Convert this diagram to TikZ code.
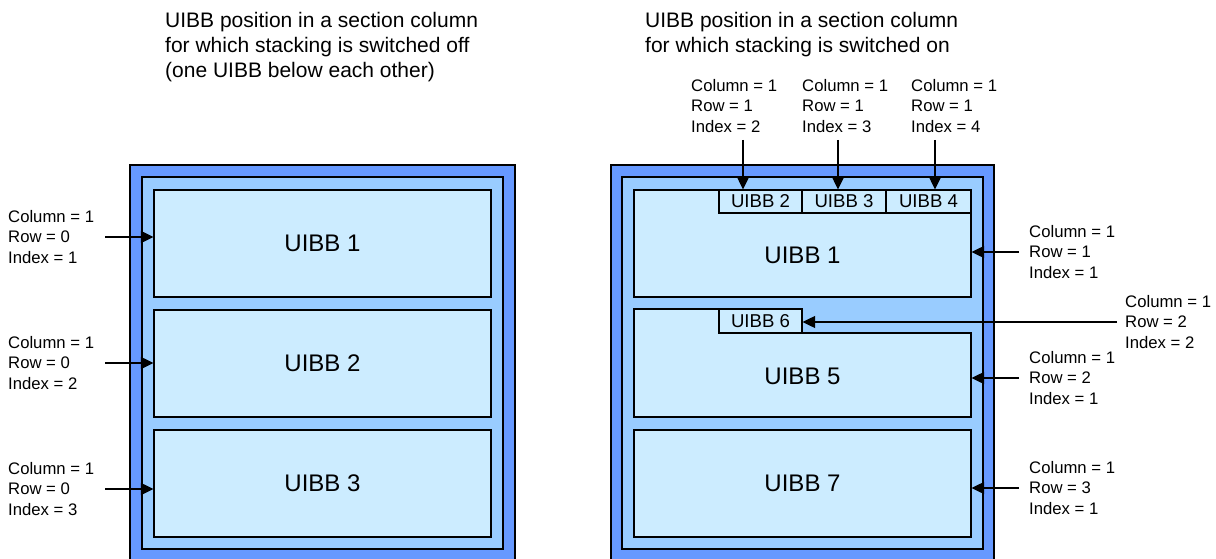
\documentclass[tikz,border=0pt]{standalone}
\usepackage{fontspec}
\setmainfont{Liberation Sans}
\usepackage{tikz}
\usetikzlibrary{arrows.meta}
\definecolor{framedark}{HTML}{6699FF}
\definecolor{framelight}{HTML}{99CCFF}
\definecolor{uibbfill}{HTML}{CCECFF}

\begin{document}
\begin{tikzpicture}[
		x=1pt, y=-1pt,
		frame/.style = {draw=black, line width=1.2pt},
		uibb/.style = {shape=rectangle, draw, line width=1.2pt, fill=uibbfill,
				minimum width=337pt, minimum height=107pt, inner sep=0pt,
				font=\fontsize{24}{28}\selectfont},
		smallbox/.style = {shape=rectangle, draw, line width=1.2pt, fill=uibbfill,
				minimum height=23pt, inner sep=0pt,
				font=\fontsize{18.6}{22}\selectfont},
		titletext/.style = {anchor=west, align=left, inner sep=0pt,
				font=\fontsize{21}{25}\selectfont},
		poslabel/.style = {anchor=west, align=left, inner sep=0pt,
				font=\fontsize{16.7}{20.5}\selectfont},
		arr/.style = {line width=1.2pt, -{Triangle[length=12.5pt,width=12pt]}}
	]

	\useasboundingbox (0,0) rectangle (1216,559);

	\node[titletext] (tleft) at (165,47) {UIBB position in a section column\\
		for which stacking is switched off\\
		(one UIBB below each other)};
	\node[titletext] (tright) at (645,34.5) {UIBB position in a section column\\
		for which stacking is switched on};

	% section column, stacking off
	\filldraw[frame, fill=framedark] (130,165) rectangle (515,562);
	\filldraw[frame, fill=framelight] (142,177) rectangle (503,549);

	\node[uibb] (a1) at (322.5,243.5) {UIBB 1};
	\node[uibb] (a2) at (322.5,363.5) {UIBB 2};
	\node[uibb] (a3) at (322.5,483.5) {UIBB 3};

	\node[poslabel] (pa1) at (8,237) {Column = 1\\ Row = 0\\ Index = 1};
	\node[poslabel] (pa2) at (8,363) {Column = 1\\ Row = 0\\ Index = 2};
	\node[poslabel] (pa3) at (8,489) {Column = 1\\ Row = 0\\ Index = 3};

	\draw[arr] ([xshift=11pt]pa1.east) -- (pa1.east -| a1.west);
	\draw[arr] ([xshift=11pt]pa2.east) -- (pa2.east -| a2.west);
	\draw[arr] ([xshift=11pt]pa3.east) -- (pa3.east -| a3.west);

	% section column, stacking on
	\filldraw[frame, fill=framedark] (611,165) rectangle (994,562);
	\filldraw[frame, fill=framelight] (622,177) rectangle (983,549);

	\node[uibb] (b1) at (802.5,243.5) {};
	\node[font=\fontsize{24}{28}\selectfont] (t1) at ([yshift=-12pt]b1.center) {UIBB 1};
	\node[smallbox, minimum width=83pt] (s2) at (760.5,201.5) {UIBB 2};
	\node[smallbox, minimum width=84pt] (s3) at (844,201.5) {UIBB 3};
	\node[smallbox, minimum width=85pt] (s4) at (928.5,201.5) {UIBB 4};

	\filldraw[frame, fill=uibbfill] (634,309) -- (802,309) -- (802,333)
		-- (971,333) -- (971,417) -- (634,417) -- cycle;
	\node[smallbox, minimum width=83pt, minimum height=24pt] (s6) at (760.5,321) {UIBB 6};
	\node[uibb, draw=none, fill=none, minimum height=84pt] (b5) at (802.5,376) {UIBB 5};

	\node[uibb] (b7) at (802.5,483.5) {UIBB 7};

	\node[poslabel] (ps2) at (691,106) {Column = 1\\ Row = 1\\ Index = 2};
	\node[poslabel] (ps3) at (802,106) {Column = 1\\ Row = 1\\ Index = 3};
	\node[poslabel] (ps4) at (911,106) {Column = 1\\ Row = 1\\ Index = 4};

	\coordinate (c2) at (743,140);
	\coordinate (c3) at (838,140);
	\coordinate (c4) at (935,140);
	\draw[arr] (c2) -- (c2 |- s2.north);
	\draw[arr] (c3) -- (c3 |- s3.north);
	\draw[arr] (c4) -- (c4 |- s4.north);

	\node[poslabel] (pb1) at (1029,252) {Column = 1\\ Row = 1\\ Index = 1};
	\node[poslabel] (ps6) at (1125,322) {Column = 1\\ Row = 2\\ Index = 2};
	\node[poslabel] (pb5) at (1029,378) {Column = 1\\ Row = 2\\ Index = 1};
	\node[poslabel] (pb7) at (1029,488) {Column = 1\\ Row = 3\\ Index = 1};

	\draw[arr] ([xshift=-10pt]pb1.west) -- (pb1.west -| b1.east);
	\draw[arr] ([xshift=-8pt]ps6.west) -- (ps6.west -| s6.east);
	\draw[arr] ([xshift=-10pt]pb5.west) -- (pb5.west -| b5.east);
	\draw[arr] ([xshift=-10pt]pb7.west) -- (pb7.west -| b7.east);
\end{tikzpicture}
\end{document}
